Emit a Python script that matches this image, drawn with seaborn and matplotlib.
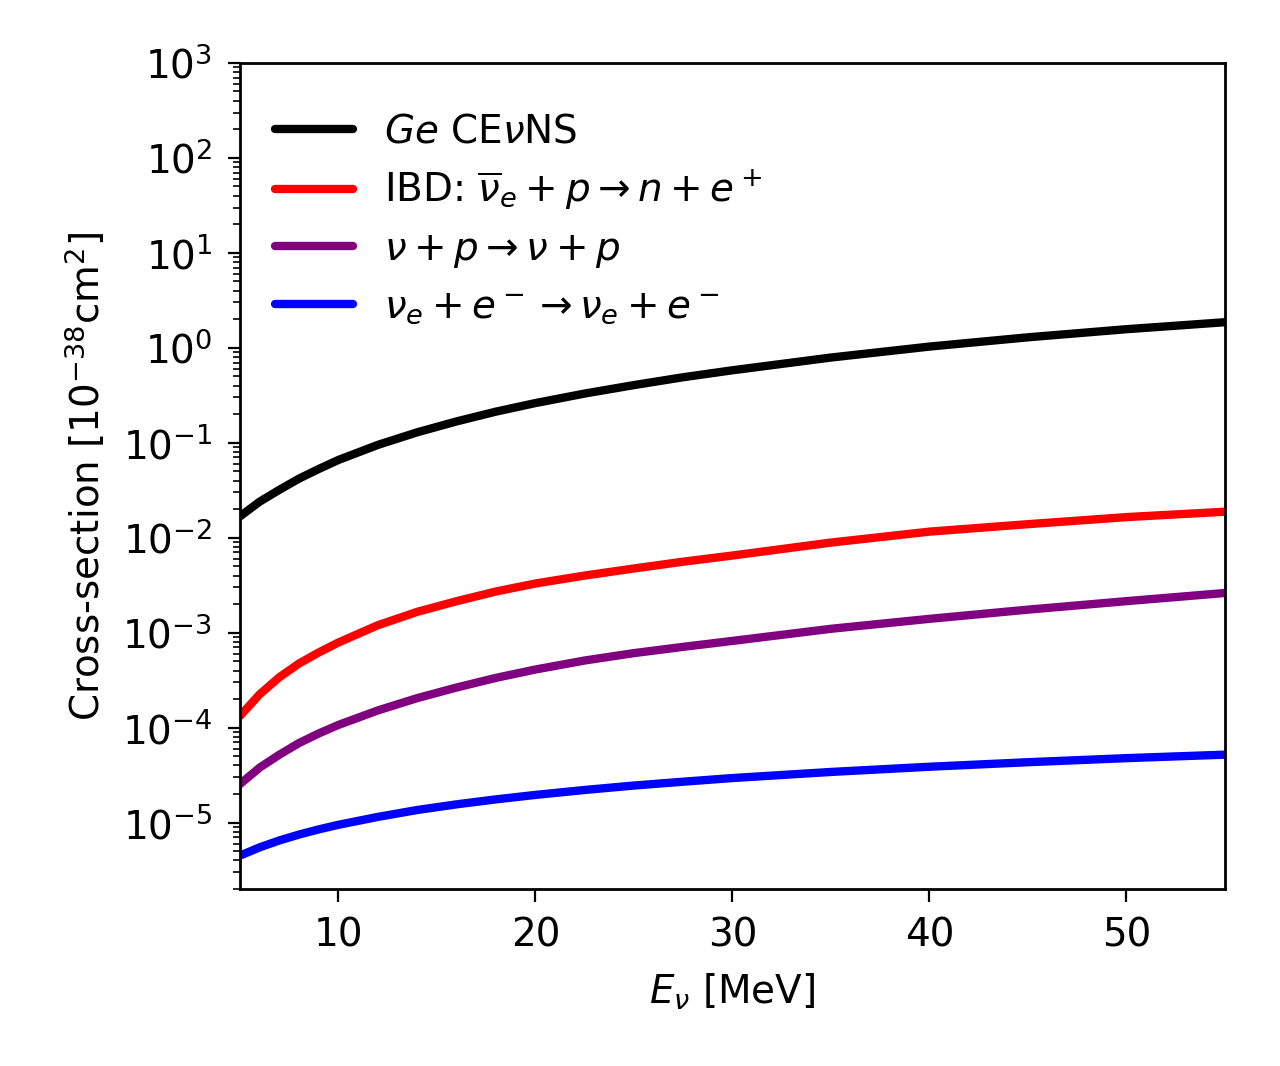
import numpy as np
import pandas as pd
import matplotlib
matplotlib.use("Agg")
import matplotlib.pyplot as plt
import matplotlib.ticker as mticker
import seaborn as sns

# Neutrino energy grid [MeV]
energy = [5, 6, 7, 8, 9, 10, 12, 14, 16, 18, 20, 22.5, 25, 27.5, 30, 35, 40, 45, 50, 55]

# Cross-sections [1e-38 cm^2]
ge_cevns = [0.0168, 0.024, 0.032, 0.042, 0.053, 0.066, 0.095, 0.129, 0.168,
            0.213, 0.262, 0.33, 0.405, 0.49, 0.58, 0.79, 1.03, 1.29, 1.57, 1.86]
ibd = [1.33e-4, 2.25e-4, 3.4e-4, 4.75e-4, 6.2e-4, 7.9e-4, 1.2e-3, 1.66e-3,
       2.15e-3, 2.72e-3, 3.3e-3, 4.0e-3, 4.75e-3, 5.6e-3, 6.5e-3, 8.9e-3,
       1.16e-2, 1.39e-2, 1.65e-2, 1.88e-2]
nu_p = [2.55e-5, 3.8e-5, 5.2e-5, 6.9e-5, 8.7e-5, 1.07e-4, 1.52e-4, 2.05e-4,
        2.65e-4, 3.35e-4, 4.1e-4, 5.1e-4, 6.1e-4, 7.1e-4, 8.2e-4, 1.1e-3,
        1.4e-3, 1.75e-3, 2.15e-3, 2.62e-3]
nue_e = [4.5e-6, 5.5e-6, 6.5e-6, 7.5e-6, 8.5e-6, 9.5e-6, 1.15e-5, 1.36e-5,
         1.56e-5, 1.76e-5, 1.96e-5, 2.21e-5, 2.46e-5, 2.7e-5, 2.95e-5,
         3.42e-5, 3.88e-5, 4.33e-5, 4.78e-5, 5.2e-5]

labels = [r"$Ge$ CE$\nu$NS",
          r"IBD: $\overline{\nu}_e + p \rightarrow n + e^+$",
          r"$\nu + p \rightarrow \nu + p$",
          r"$\nu_e + e^- \rightarrow \nu_e + e^-$"]
colors = ["black", "red", "purple", "blue"]
series = [ge_cevns, ibd, nu_p, nue_e]

sns.set_style("ticks")
plt.rcParams['font.family'] = ['DejaVu Sans']
plt.rcParams.update({"text.color": "black", "axes.labelcolor": "black",
                     "xtick.color": "black", "ytick.color": "black",
                     "axes.edgecolor": "black"})

fig = plt.figure(figsize=(6.4, 5.33), dpi=200)
ax = fig.add_axes([0.1875, 0.166, 0.7695, 0.775])

for vals, lab, col in zip(series, labels, colors):
    df = pd.DataFrame({"E": energy, "sigma": vals})
    sns.lineplot(data=df, x="E", y="sigma", color=col, lw=3, label=lab, ax=ax)

ax.set_yscale("log")
ax.set_xlim(5, 55)
ax.set_ylim(2e-6, 1e3)
ax.yaxis.set_major_locator(mticker.LogLocator(base=10, numticks=15))
ax.yaxis.set_minor_locator(mticker.LogLocator(base=10, subs=np.arange(2, 10), numticks=15))
ax.yaxis.set_minor_formatter(mticker.NullFormatter())
ax.set_xticks([10, 20, 30, 40, 50])

ax.tick_params(axis='both', which='major', labelsize=14, length=4.5, width=0.8,
               pad=5.5, direction='out', colors='black')
ax.tick_params(axis='y', which='minor', length=2.5, width=0.6, direction='out')
for sp in ax.spines.values():
    sp.set_linewidth(1.0)
    sp.set_color("black")

ax.set_xlabel(r"$E_\nu$ [MeV]", fontsize=14, labelpad=6)
ax.set_ylabel(r"Cross-section [$10^{-38}$cm$^2$]", fontsize=14, labelpad=5)

ax.legend(loc="upper left", bbox_to_anchor=(0, 0.982), frameon=False,
          fontsize=14, labelspacing=0.45)

fig.savefig("out.png", dpi=200)
